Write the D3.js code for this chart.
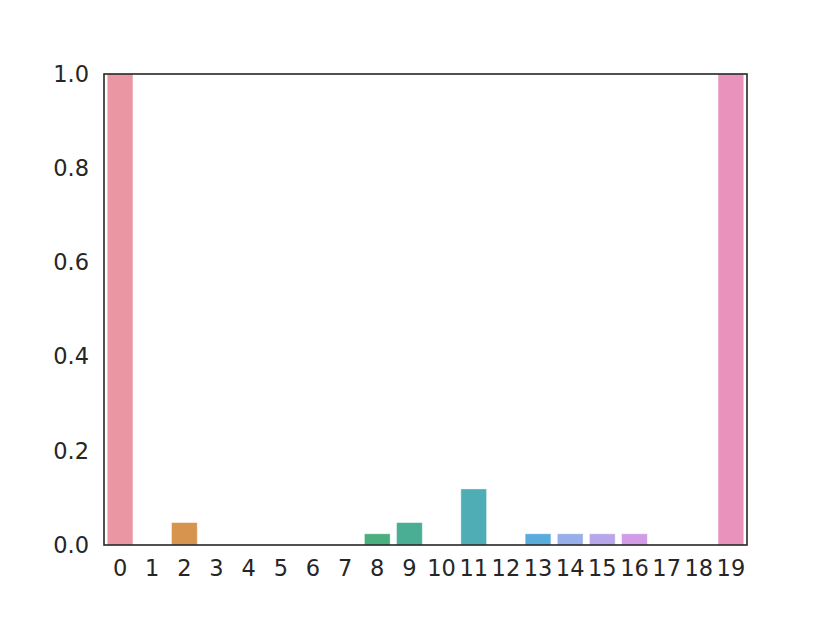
<!DOCTYPE html>
<meta charset='utf-8'>
<head>
    <title>Bars</title>
    <script src='https://cdn.jsdelivr.net/npm/d3@7/dist/d3.min.js'></script>
</head>

<style>
    body { margin: 0; background: #fff; }
    text { font-family: 'DejaVu Sans', sans-serif; fill: #262626; }
</style>

<svg></svg>

<script>
    var vWidth = 830;
    var vHeight = 623;
    var vMargin = {top: 74, right: 83, bottom: 78, left: 104};

    // Data
    var vCategories = ['0', '1', '2', '3', '4', '5', '6', '7', '8', '9',
        '10', '11', '12', '13', '14', '15', '16', '17', '18', '19'];
    var vValues = [1.0, 0, 0.0476, 0, 0, 0, 0, 0, 0.0238, 0.0476,
        0, 0.119, 0, 0.0238, 0.0238, 0.0238, 0.0238, 0, 0, 1.0];
    var vColors = ['#ea96a3', '#e3977a', '#d7944f', '#c09b4b', '#aea24a', '#9aa84a', '#7fad4a', '#4caf6e',
        '#4aaf7e', '#4aae94', '#4caea4', '#4fadb5', '#52acc6', '#58abdd', '#96aee9', '#b8a6eb',
        '#d19be8', '#e391d6', '#e690c8', '#e992bb'];
    var vYTicks = [0, 0.2, 0.4, 0.6, 0.8, 1.0];

    var svg = d3.select('svg').attr('width', vWidth).attr('height', vHeight);
    var g = svg.append('g').attr('transform', 'translate(' + vMargin.left + ',' + vMargin.top + ')');
    var w = vWidth - vMargin.left - vMargin.right;
    var h = vHeight - vMargin.top - vMargin.bottom;

    var x = d3.scaleBand().domain(vCategories).range([0, w]).paddingInner(0.2).paddingOuter(0.1);
    var y = d3.scaleLinear().domain([0, 1]).range([h, 0]);

    // Bars
    g.selectAll('rect.bar').data(vValues).enter().append('rect')
        .attr('class', 'bar')
        .attr('x', function (d, i) { return x(vCategories[i]); })
        .attr('y', function (d) { return y(d); })
        .attr('width', x.bandwidth())
        .attr('height', function (d) { return h - y(d); })
        .attr('fill', function (d, i) { return vColors[i]; })
        .attr('stroke', '#fff')
        .attr('stroke-opacity', 0.5)
        .attr('stroke-width', 0.8);

    // Axes, no tick marks (seaborn white style)
    var xAxis = g.append('g').attr('transform', 'translate(0,' + h + ')')
        .call(d3.axisBottom(x).tickSize(0).tickPadding(15.5));
    var yAxis = g.append('g')
        .call(d3.axisLeft(y).tickValues(vYTicks).tickFormat(d3.format('.1f')).tickSize(0).tickPadding(15));
    [xAxis, yAxis].forEach(function (a) {
        a.select('.domain').remove();
        a.selectAll('text').style('font-size', '22.5px').attr('fill', '#262626');
    });

    // Frame
    g.append('rect')
        .attr('width', w).attr('height', h)
        .attr('fill', 'none').attr('stroke', '#262626').attr('stroke-width', 1.6);
</script>
